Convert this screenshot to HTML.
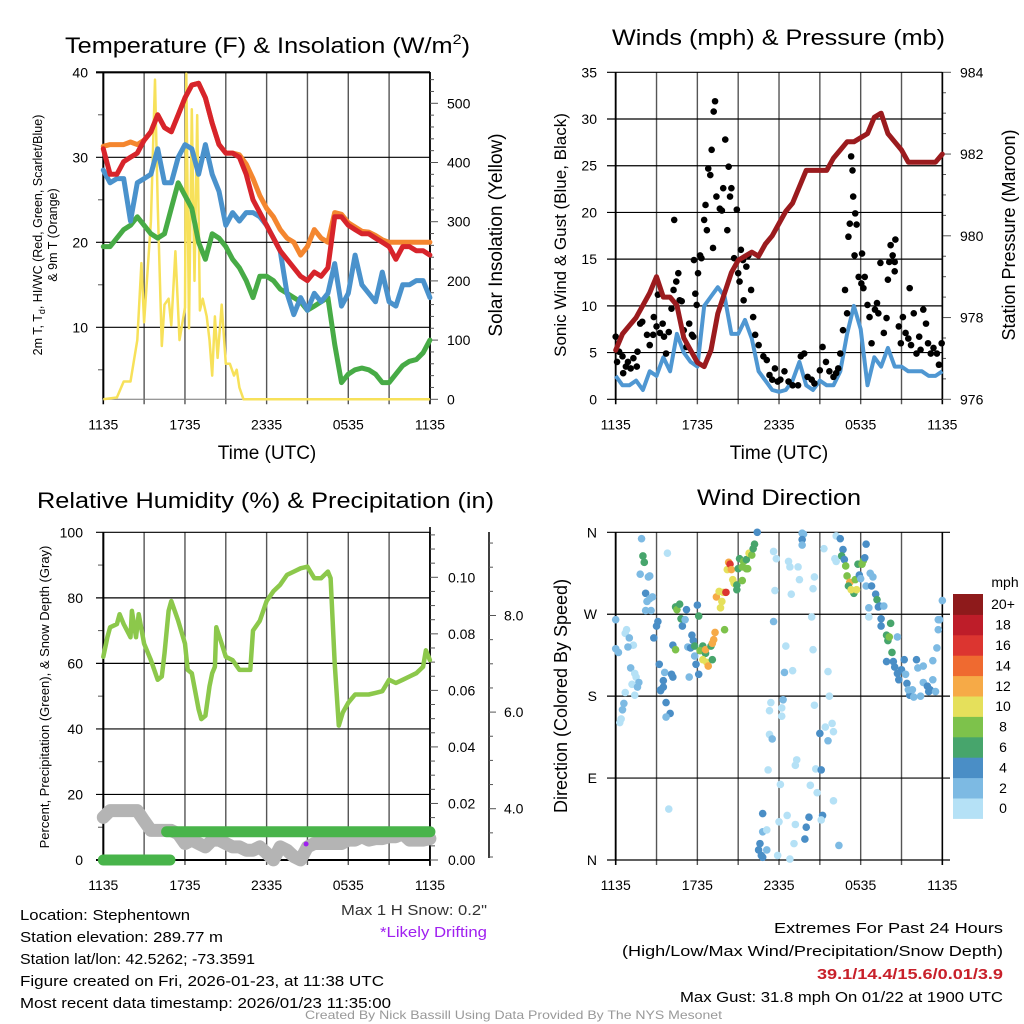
<!DOCTYPE html>
<html><head><meta charset="utf-8">
<style>
html,body{margin:0;padding:0;background:#fff;}
svg{display:block;font-family:"Liberation Sans",sans-serif;}
</style></head>
<body>
<svg id="fig" width="1024" height="1024" viewBox="0 0 1024 1024" xmlns="http://www.w3.org/2000/svg">
<rect width="1024" height="1024" fill="#fff"/>
<g id="tl"></g>
<g id="tr"></g>
<g id="bl"></g>
<g id="br"></g>

<text x="65" y="53" font-size="22" textLength="405" lengthAdjust="spacingAndGlyphs">Temperature (F) &amp; Insolation (W/m<tspan font-size="14" dy="-9">2</tspan><tspan dy="9">)</tspan></text>
<text x="612" y="45" font-size="22" textLength="333" lengthAdjust="spacingAndGlyphs">Winds (mph) &amp; Pressure (mb)</text>
<text x="37" y="508" font-size="22" textLength="457" lengthAdjust="spacingAndGlyphs">Relative Humidity (%) &amp; Precipitation (in)</text>
<text x="697" y="505" font-size="22" textLength="164" lengthAdjust="spacingAndGlyphs">Wind Direction</text>

<text transform="translate(42,235) rotate(-90)" text-anchor="middle" font-size="12.5">2m T, T<tspan font-size="9" dy="3">d</tspan><tspan dy="-3">, HI/WC (Red, Green, Scarlet/Blue)</tspan></text>
<text transform="translate(57,235) rotate(-90)" text-anchor="middle" font-size="12.5">&amp; 9m T (Orange)</text>
<text transform="translate(502,235) rotate(-90)" text-anchor="middle" font-size="19">Solar Insolation (Yellow)</text>
<text transform="translate(566,235) rotate(-90)" text-anchor="middle" font-size="17">Sonic Wind &amp; Gust (Blue, Black)</text>
<text transform="translate(1015,235) rotate(-90)" text-anchor="middle" font-size="18">Station Pressure (Maroon)</text>
<text transform="translate(49,697) rotate(-90)" text-anchor="middle" font-size="13">Percent, Precipitation (Green), &amp; Snow Depth (Gray)</text>
<text transform="translate(567,696) rotate(-90)" text-anchor="middle" font-size="18">Direction (Colored By Speed)</text>
<text x="267" y="459" text-anchor="middle" font-size="19">Time (UTC)</text>
<text x="779" y="459" text-anchor="middle" font-size="19">Time (UTC)</text>

<g font-size="15">
<text x="20" y="920" textLength="170" lengthAdjust="spacingAndGlyphs">Location: Stephentown</text>
<text x="20" y="942" textLength="203" lengthAdjust="spacingAndGlyphs">Station elevation: 289.77 m</text>
<text x="20" y="964" textLength="235" lengthAdjust="spacingAndGlyphs">Station lat/lon: 42.5262; -73.3591</text>
<text x="20" y="986" textLength="364" lengthAdjust="spacingAndGlyphs">Figure created on Fri, 2026-01-23, at 11:38 UTC</text>
<text x="20" y="1008" textLength="371" lengthAdjust="spacingAndGlyphs">Most recent data timestamp: 2026/01/23 11:35:00</text>
</g>
<text x="341" y="915" font-size="15" fill="#333" textLength="146" lengthAdjust="spacingAndGlyphs">Max 1 H Snow: 0.2"</text>
<text x="380" y="937" font-size="15" fill="#a020f0" textLength="107" lengthAdjust="spacingAndGlyphs">*Likely Drifting</text>
<text x="774" y="933" font-size="15" textLength="229" lengthAdjust="spacingAndGlyphs">Extremes For Past 24 Hours</text>
<text x="622" y="956" font-size="15" textLength="381" lengthAdjust="spacingAndGlyphs">(High/Low/Max Wind/Precipitation/Snow Depth)</text>
<text x="817" y="979" font-size="15" font-weight="bold" fill="#c8202a" textLength="186" lengthAdjust="spacingAndGlyphs">39.1/14.4/15.6/0.01/3.9</text>
<text x="680" y="1002" font-size="15" textLength="323" lengthAdjust="spacingAndGlyphs">Max Gust: 31.8 mph On 01/22 at 1900 UTC</text>
<text x="305" y="1019" font-size="12" fill="#999" textLength="417" lengthAdjust="spacingAndGlyphs">Created By Nick Bassill Using Data Provided By The NYS Mesonet</text>
</svg>

<script>
// ---------- data ----------
const hours = [0,0.5,1,1.5,2,2.5,3,3.5,4,4.5,5,5.5,6,6.5,7,7.5,8,8.5,9,9.5,10,10.5,11,11.5,12,12.5,13,13.5,14,14.5,15,15.5,16,16.5,17,17.5,18,18.5,19,19.5,20,20.5,21,21.5,22,22.5,23,23.5,24];
const xTickLabels = ["1135","1735","2335","0535","1135"];
const tempRed = [31,28,28,29.5,30,30.5,32,33,35,33.5,33,35,37,38.5,38.7,37,34,31.5,30.5,30.5,30,28,25,23.5,22,20.5,19,18,17,16,15.5,16.5,16,17,23,23,22,21.5,21,21,20.5,20,19.5,18,19.5,19.5,19,19,18.5];
const temp9mOrange = [31.3,31.5,31.5,31.5,31.8,31.5,32,33,35,33.5,33,35,37,38.5,38.7,37,34,31.5,30.5,30.5,30.3,29.2,27.5,25.5,24,23,21.5,20.5,20,18.5,19.5,21.5,20.5,20,23.5,23.3,22.3,21.8,21.3,21.2,20.8,20.3,20,20,20,20,20,20,20];
const windChillBlue = [28.5,27,27.5,27.5,22.5,27,27.5,28,31,27,27,30,31.5,31,28,31.5,28,26,22,23.5,22.5,23.5,23.5,23,22,20.5,19,14,11.5,13.5,12,14,13,14,17.5,12.5,14,18.5,15,14,13,16.5,13,12.5,15,15,15.5,15.5,13.5];
const dewGreen = [19.5,19.5,20.5,21.5,22,23,22,21,20.5,21,24,27,25.5,24,20,18,21,20.5,19.5,18,17,15.5,13.5,16,16,15.5,14.5,14,13.5,13,12,12.5,13,13.5,8,3.5,4.5,5,5.2,5,4.5,3.5,3.5,4.5,5.5,6,6.2,7,8.5];
const insolTimes = [0,1,1.5,2,2.5,2.8,3,3.2,3.5,3.8,4,4.3,4.5,4.8,5,5.3,5.6,6,6.1,6.3,6.5,6.7,6.9,7.1,7.3,7.6,7.8,8,8.2,8.4,8.7,9,9.3,9.6,9.8,10,10.3,24];
const insolValues = [0,3,30,30,100,230,130,200,300,540,330,90,160,170,125,250,100,155,550,120,490,200,480,150,170,140,100,40,140,70,160,60,60,40,50,20,0,0];
const tempTicks = [10,20,30,40];
const insolTicks = [0,100,200,300,400,500];

const pressure = [977.2,977.6,977.8,978,978.3,978.6,979,978.5,978.5,978.3,977.5,977.2,976.9,976.8,977.2,978.1,978.6,979.1,979.4,979.5,979.6,979.5,979.8,980,980.3,980.6,980.8,981.2,981.6,981.6,981.6,981.6,981.9,982.1,982.3,982.3,982.4,982.5,982.9,983,982.5,982.3,982.1,981.8,981.8,981.8,981.8,981.8,982];
const sonicWind = [2.5,1.5,1.5,2,1,3,2.5,4.5,3,7,5,4,3.5,10,11,12,11,7,7,8.5,6.5,3,2,1,0.8,1,2,4,1.5,1,2,1.5,1.5,3,7,10,7.5,1.5,4.5,3.5,5.5,3.5,3.5,3,3,3,2.5,2.5,3];
const gustTimes = [0,0.1,0.25,0.5,0.55,0.75,0.9,1.1,1.3,1.55,1.6,1.8,1.95,2.3,2.5,2.75,2.8,3,3.1,3.25,3.45,3.55,3.7,3.9,4.1,4.25,4.3,4.45,4.6,4.7,4.85,5,5.2,5.4,5.6,5.7,5.75,5.85,5.95,6.05,6.2,6.3,6.5,6.6,6.7,6.8,6.95,7.05,7.2,7.15,7.3,7.4,7.65,7.8,7.9,8.05,8.2,8.3,8.4,8.5,8.7,8.9,9,9.1,9.2,9.35,9.4,9.6,9.75,9.95,10.1,10.25,10.5,10.85,11.1,11.3,11.5,11.7,11.9,12.1,12.4,12.7,13,13.4,13.6,13.85,14.1,14.4,14.6,15,15.2,15.45,15.7,16,16.2,16.35,16.5,16.7,16.85,17,17.1,17.2,17.3,17.4,17.45,17.6,17.7,17.55,17.85,18.05,18.1,18.2,18.3,18.5,18.65,18.8,19.05,19.2,19.3,19.45,19.7,19.9,20,20.1,20.2,20.35,20.5,20.55,20.5,20.8,20.95,21.1,21.3,21.5,21.6,21.7,21.9,22.1,22.3,22.4,22.6,22.8,22.95,23.15,23.35,23.6,23.75,23.95];
const gustValues = [6.7,4,5.1,4.6,2.8,3.5,4,3.3,4.4,3.5,5.1,8.1,8.3,6.9,5.8,6.9,8.8,7.8,11.2,7.1,8.1,6.7,4.9,7.2,9.7,11.7,19.2,12.6,13.5,10.6,10.5,7.4,5.6,8.1,6.9,6.7,14.9,11.3,10.1,13.5,15.4,15.1,19.2,20.8,18.1,24.7,24,26.7,30.8,16.2,31.9,21.7,20.4,20.2,22.6,27.8,18.1,24.9,21.7,22.6,15.1,20.3,13.5,12.6,16,14.9,10.6,14.2,15.4,11.7,8.8,6.9,5.8,4.6,4.2,2.6,2.1,3.3,1.9,2.1,3,1.9,1.5,1.5,4.6,4.9,2.4,2.1,1.7,3.1,5.6,4,3,2.4,2.8,3.3,4.9,7.4,11.7,9.2,17.4,18.8,26,24.5,21.7,19.9,18.7,15.4,13.1,12.4,15.6,11.9,13.1,10.1,8.8,6,9.6,10.3,9.2,14.6,7.1,8.7,12.8,14.7,16.5,15.4,13.7,17.1,14.7,7.8,6,8.8,7.1,6.5,11.9,5.8,9.2,4.9,6.7,5.3,9.6,8.1,6,4.9,5.5,4.9,3.7,6,7.4];
const windTicks = [0,5,10,15,20,25,30,35];
const pressureTicks = [976,978,980,982,984];

const rhTimes = [0,0.3,0.5,1,1.2,1.5,2,2.1,2.4,2.6,3,3.5,4,4.3,4.5,4.8,5,5.5,6,6.2,6.5,7,7.2,7.5,7.8,8,8.2,8.3,8.7,9,9.5,10,10.5,10.8,11,11.5,12,12.5,13,13.5,14,14.5,15,15.5,16,16.5,16.7,17,17.3,17.6,18,18.5,19,19.5,20,20.5,21,21.5,22,22.5,23,23.5,23.7,24];
const rhValues = [62,68,71,72,75,72,68,76,68,75,66,61,55,56,63,76,79,73,66,58,57,46,43,44,53,57,59,71,66,62,61,58,58,58,70,73,79,82,84,87,88,89,89.5,86,86,88,86,60,41,45,48,50.5,50.5,50.5,51,51.5,55,54,55,56,57,59,64,61];
const snowDepth = [3.82,3.96,3.96,3.96,3.96,3.96,3.75,3.55,3.55,3.55,3.55,3.48,3.28,3.35,3.28,3.21,3.35,3.35,3.28,3.21,3.21,3.14,3.14,3.21,3.08,2.94,3.21,3.14,3.01,2.94,3.21,3.28,3.28,3.28,3.28,3.28,3.35,3.35,3.42,3.35,3.38,3.38,3.42,3.42,3.48,3.35,3.35,3.35,3.38];
const precipTimes = [0,4.9,4.65,24];
const precipValues = [0,0,0.01,0.01];
const driftTimes = [14.9];
const driftValues = [3.27];
const rhTicks = [0,20,40,60,80,100];
const precipTicks = ["0.00","0.02","0.04","0.06","0.08","0.10"];
const snowTicks = ["4.0","6.0","8.0"];

const dirTimes = [1.9,2.0,2.1,1.8,2.4,2.5,2.2,2.5,2.3,2.7,2.2,2.6,3.1,3.0,2.8,0.0,0.0,0.2,0.8,0.7,1.0,1.3,0.9,1.1,1.4,1.5,1.7,1.2,1.6,1.4,0.7,0.6,0.5,0.4,0.3,3.2,3.6,4.1,4.2,3.5,3.3,3.5,3.3,3.7,4.0,3.7,3.9,3.8,4.4,4.5,4.7,4.8,4.9,5.2,5.1,6.0,6.1,4.2,4.4,5.6,5.7,5.3,5.5,5.8,5.9,6.1,5.4,5.8,6.4,6.2,6.6,6.4,6.7,6.8,6.6,7.1,7.0,7.1,7.2,7.3,8.0,7.4,7.6,7.9,8.1,7.8,7.7,8.2,8.3,8.4,8.5,8.6,8.7,8.9,8.9,9.3,9.0,9.1,9.3,9.4,9.6,9.7,9.6,9.8,10.0,10.1,10.2,10.4,11.6,11.8,11.7,11.6,12.7,12.8,13.4,13.5,12.9,14.4,14.5,14.6,15.3,12.5,12.4,13.0,14.5,15.6,15.7,11.4,11.3,12.3,12.2,12.2,11.3,11.5,11.2,12.1,13.3,13.2,14.3,14.8,14.6,15.4,15.9,16.0,15.0,15.6,14.7,15.1,16.0,10.8,10.8,11.1,12.6,12.0,13.2,14.2,14.0,15.2,15.1,13.9,13.1,16.4,10.6,10.5,10.7,10.8,11.1,11.9,12.8,13.7,13.8,13.7,13.7,16.2,16.5,16.7,16.6,16.8,16.1,16.2,16.9,17.0,17.2,17.1,17.5,17.3,17.7,17.6,17.8,18.1,18.2,18.4,18.3,17.9,18.0,18.7,18.9,18.4,18.8,19.1,18.6,18.6,19.2,19.3,19.4,19.7,19.5,19.5,20.2,19.9,20.0,20.1,20.7,20.3,19.9,20.4,20.5,20.7,20.8,21.0,21.2,21.3,21.4,21.6,21.9,21.5,21.8,22.1,22.2,22.4,22.6,22.6,22.9,23.0,23.1,23.3,23.5,23.3,23.6,23.7,23.8,23.7,24.0];
const dirDegrees = [353,334,327,314,311,312,293,287,284,289,274,274,262,257,244,264,232,228,253,249,244,236,234,211,205,201,195,193,190,181,184,172,165,155,151,215,206,204,201,197,187,190,186,173,161,157,56,337,278,275,281,265,257,275,264,280,268,236,231,247,241,234,233,224,215,204,201,235,235,230,227,220,217,213,231,220,235,238,242,250,253,289,295,294,294,284,277,319,327,325,319,308,304,302,297,307,320,331,322,328,320,320,330,337,335,342,347,360,339,331,296,262,328,322,322,308,292,267,298,311,342,235,206,208,231,207,180,173,164,176,158,167,138,133,99,83,110,104,82,74,170,146,150,141,139,131,100,99,65,51,31,33,49,42,39,47,36,49,44,23,18,16,18,11,5,3,11,5,1,359,358,352,346,356,353,341,334,330,331,328,323,312,305,301,293,297,297,308,325,325,329,347,332,313,309,315,311,301,301,292,277,267,286,278,279,279,265,257,260,247,241,245,245,228,218,218,212,205,198,209,220,204,194,181,179,187,187,220,211,180,213,195,191,185,187,198,185,219,233,264,264,253,285];
const dirSpeeds = [3,7,7,3,3,3,5,3,3,3,3,3,5,5,5,3,3,3,1,1,3,1,3,3,1,1,3,1,3,1,1,3,3,1,1,5,3,5,5,5,5,5,5,5,5,3,1,1,7,9,7,7,5,5,3,5,7,5,9,5,5,3,5,3,5,5,3,7,7,9,7,11,11,13,13,7,7,13,13,13,9,13,11,11,17,11,11,11,13,17,13,11,11,7,7,9,7,7,9,9,9,9,7,11,9,7,7,5,1,1,1,3,1,1,1,1,1,1,1,1,1,1,3,1,1,1,1,1,1,3,1,1,1,3,1,1,1,1,1,1,1,1,1,1,5,3,1,5,1,5,3,1,1,1,1,5,5,5,1,5,1,3,5,5,5,5,3,1,1,3,3,5,3,1,5,5,7,5,1,1,9,9,13,7,7,11,11,9,7,9,9,5,5,5,3,3,3,3,5,5,3,1,7,5,5,3,5,5,7,7,7,9,3,7,5,5,5,5,5,5,5,3,5,5,3,3,3,5,3,3,3,3,5,5,5,3,3,3,3,3,3,3,3,5];
const dirTickLabels = ["N","E","S","W","N"];
const speedLegendLabels = ["0","2","4","6","8","10","12","14","16","18","20+"];
const speedColors = ["#b5e1f6","#7dbae3","#4a8ec6","#47a56c","#7dc24b","#e5e05b","#f6aa47","#ef6a30","#dc3530","#be1d29","#8e1a1b"];

// ---------- helpers ----------
const NS = "http://www.w3.org/2000/svg";
function mk(parent, tag, attrs){
  const e = document.createElementNS(NS, tag);
  for (const k in attrs) e.setAttribute(k, attrs[k]);
  parent.appendChild(e);
  return e;
}
function txt(parent, x, y, s, size, anchor, fill){
  const t = mk(parent, "text", {x:x, y:y, "font-size":size, "text-anchor":anchor||"start", fill:fill||"#000"});
  t.textContent = s;
  return t;
}
function pathFrom(ts, vs, xf, yf){
  let d = "";
  for (let i=0;i<ts.length;i++) d += (i?"L":"M") + xf(ts[i]).toFixed(1) + "," + yf(vs[i]).toFixed(1);
  return d;
}
function timeGrid(g, x0, y0, y1, xf){
  for (let h=0; h<=24; h+=3){
    const ln = mk(g,"line",{x1:xf(h),x2:xf(h),y1:y0,y2:y1+5,stroke:(h===0||h===24)?"#000":"#555","stroke-width":(h===0||h===24)?1.6:1.4});
    
    
  }
  xTickLabels.forEach((s,i)=>{
    const t = txt(g, xf(i*6), y1+30, s, 14, "middle");
    
    
  });
}

// ---------- Top-left: temperature ----------
(function(){
  const g = document.getElementById("tl");
  const xs = h => 103.3 + h*13.61;
  const yT = v => 412.3 - v*8.5;
  const yI = v => 399.3 - v*0.592;
  timeGrid(g, 72.3, 72.3, 399.3, xs);
  tempTicks.forEach(v=>{
    const l = mk(g,"line",{x1:96,x2:430,y1:yT(v),y2:yT(v),stroke:"#000","stroke-width":v===40?2.2:1.2});
    
    
    const t = txt(g, 88, yT(v)+5, String(v), 14, "end");
    
    
  });
  [5,15,25,35].forEach(v=>{
    const l = mk(g,"line",{x1:98,x2:103,y1:yT(v),y2:yT(v),stroke:"#555","stroke-width":1});
    
    
  });
  mk(g,"line",{x1:103.3,x2:103.3,y1:72,y2:399,stroke:"#000","stroke-width":2});
  mk(g,"line",{x1:430,x2:430,y1:72,y2:399,stroke:"#000","stroke-width":1.6});
  mk(g,"line",{x1:103,x2:430,y1:399.3,y2:399.3,stroke:"#777","stroke-width":1});
  for (let v=0; v<=540; v+=20){
    const major = v%100===0;
    const l = mk(g,"line",{x1:430,x2:major?438:434,y1:yI(v),y2:yI(v),stroke:"#555","stroke-width":1});
    
    
  }
  insolTicks.forEach(v=>{
    const t = txt(g, 447, yI(v)+5, String(v), 14, "start");
    
    
  });
  const ins = mk(g,"path",{d:pathFrom(insolTimes,insolValues,xs,yI),fill:"none",stroke:"#f7e15a","stroke-width":2.5,"stroke-linejoin":"round"});
  
  
  const series = [[dewGreen,"#47ab46","dewpoint-line"],[windChillBlue,"#4a92cc","wind-chill-line"],[temp9mOrange,"#f4862f","temp-9m-line"],[tempRed,"#d7242b","temp-2m-line"]];
  series.forEach(s=>{
    const p = mk(g,"path",{d:pathFrom(hours,s[0],xs,yT),fill:"none",stroke:s[1],"stroke-width":5,"stroke-linejoin":"round","stroke-linecap":"round"});
    
    
  });
})();

// ---------- Top-right: winds & pressure ----------
(function(){
  const g = document.getElementById("tr");
  const xs = h => 615.7 + h*13.61;
  const yW = v => 399.3 - v*9.343;
  const yP = p => 399.3 - (p-976)*40.875;
  timeGrid(g, 72.3, 72.3, 399.3, xs);
  windTicks.forEach(v=>{
    const l = mk(g,"line",{x1:607,x2:942,y1:yW(v),y2:yW(v),stroke:"#000","stroke-width":1.2});
    
    
    const t = txt(g, 597, yW(v)+5, String(v), 14, "end");
    
    
  });
  for (let p=976; p<=984; p+=0.5){
    const major = Math.abs(p-Math.round(p/2)*2)<0.01;
    const l = mk(g,"line",{x1:942,x2:major?951:946,y1:yP(p),y2:yP(p),stroke:"#555","stroke-width":1});
    
    
  }
  pressureTicks.forEach(v=>{
    const t = txt(g, 960, yP(v)+5, String(v), 14, "start");
    
    
  });
  mk(g,"line",{x1:615.7,x2:615.7,y1:72,y2:399,stroke:"#000","stroke-width":1.8});
  mk(g,"line",{x1:942.3,x2:942.3,y1:72,y2:399,stroke:"#000","stroke-width":1.6});
  const w = mk(g,"path",{d:pathFrom(hours,sonicWind,xs,yW),fill:"none",stroke:"#4f97d2","stroke-width":4,"stroke-linejoin":"round"});
  
  
  gustTimes.forEach((h,i)=>{
    const c = mk(g,"circle",{cx:xs(h),cy:yW(gustValues[i]),r:3.3,fill:"#000"});
    
    
  });
  const p = mk(g,"path",{d:pathFrom(hours,pressure,xs,yP),fill:"none",stroke:"#9b1b1e","stroke-width":5,"stroke-linejoin":"round","stroke-linecap":"round"});
  
  
})();

// ---------- Bottom-left: humidity/precip/snow ----------
(function(){
  const g = document.getElementById("bl");
  const xs = h => 103.3 + h*13.61;
  const yR = v => 860 - v*3.277;
  const yPr = v => 860 - v*2827;
  const yS = v => 808.7 - (v-4)*48.3;
  timeGrid(g, 532.3, 532.3, 860, xs);
  rhTicks.forEach(v=>{
    const l = mk(g,"line",{x1:96,x2:430,y1:yR(v),y2:yR(v),stroke:"#000","stroke-width":v===0?2:1.2});
    
    
    const t = txt(g, 83, yR(v)+5, String(v), 14, "end");
    
    
  });
  for (let v=10; v<100; v+=20){
    const l = mk(g,"line",{x1:98,x2:103,y1:yR(v),y2:yR(v),stroke:"#555","stroke-width":1});
    
    
  }
  mk(g,"line",{x1:103.3,x2:103.3,y1:532,y2:860,stroke:"#000","stroke-width":2});
  mk(g,"line",{x1:430,x2:430,y1:527,y2:866,stroke:"#000","stroke-width":1.6});
  for (let k=0; k<=23; k++){
    const v = k*0.005;
    const major = k%4===0;
    const l = mk(g,"line",{x1:430,x2:major?438:435,y1:yPr(v),y2:yPr(v),stroke:"#555","stroke-width":1});
    
    
  }
  precipTicks.forEach(s=>{
    const t = txt(g, 448, yPr(parseFloat(s))+5, s, 14, "start");
    
    
  });
  mk(g,"line",{x1:489,x2:489,y1:532,y2:858,stroke:"#000","stroke-width":1.5});
  for (let v=3; v<=9.75; v+=0.5){
    const major = Math.abs(v-Math.round(v/2)*2)<0.01;
    const l = mk(g,"line",{x1:489,x2:major?496:493,y1:yS(v),y2:yS(v),stroke:"#555","stroke-width":1});
    
    
  }
  snowTicks.forEach(s=>{
    const t = txt(g, 504, yS(parseFloat(s))+5, s, 14, "start");
    
    
  });
  const sn = mk(g,"path",{d:pathFrom(hours,snowDepth,xs,yS),fill:"none",stroke:"#b4b4b4","stroke-width":13,"stroke-linejoin":"round","stroke-linecap":"round"});
  
  
  for (let i=0;i<precipTimes.length-1;i++){
    if (precipValues[i]!==precipValues[i+1]) continue;
    const l = mk(g,"line",{x1:xs(precipTimes[i]),x2:xs(precipTimes[i+1]),y1:yPr(precipValues[i]),y2:yPr(precipValues[i+1]),stroke:"#48b44a","stroke-width":11,"stroke-linecap":"round"});
    
    
  }
  driftTimes.forEach((h,i)=>{
    const c = mk(g,"circle",{cx:xs(h),cy:yS(driftValues[i]),r:2.5,fill:"#a020f0"});
    
    
  });
  const rh = mk(g,"path",{d:pathFrom(rhTimes,rhValues,xs,yR),fill:"none",stroke:"#8cc84b","stroke-width":4.5,"stroke-linejoin":"round","stroke-linecap":"round"});
  
  
})();

// ---------- Bottom-right: wind direction ----------
(function(){
  const g = document.getElementById("br");
  const xs = h => 615.7 + h*13.61;
  const yD = d => 860 - d*0.9103;
  timeGrid(g, 532.3, 532.3, 860, xs);
  dirTickLabels.forEach((s,i)=>{
    const d = i*90;
    const l = mk(g,"line",{x1:607,x2:950,y1:yD(d),y2:yD(d),stroke:"#000","stroke-width":1.2});
    
    
    const t = txt(g, 597, yD(d)+5, s, 14, "end");
    
    
  });
  mk(g,"line",{x1:615.7,x2:615.7,y1:532,y2:860,stroke:"#000","stroke-width":1.8});
  dirTimes.forEach((h,i)=>{
    const idx = Math.min(10, Math.floor(dirSpeeds[i]/2));
    const c = mk(g,"circle",{cx:xs(h),cy:yD(dirDegrees[i]),r:3.8,fill:speedColors[idx]});
    
    
  });
  const top = 594, bh = 20.4;
  const mph = txt(g, 1005, 587, "mph", 14, "middle");
  
  
  speedLegendLabels.forEach((s,i)=>{
    const k = 10 - i;
    const r = mk(g,"rect",{x:953,y:top+k*bh,width:30,height:bh+0.5,fill:speedColors[i]});
    
    
    const t = txt(g, 1003, top+k*bh+bh/2+5, s, 14, "middle");
    
    
  });
})();
</script>
</body></html>
